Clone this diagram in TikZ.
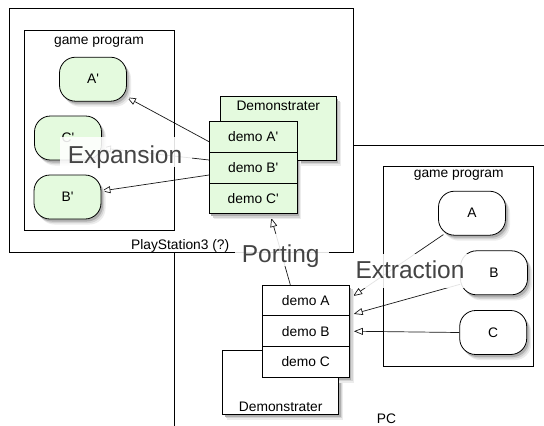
\documentclass[tikz,border=0pt]{standalone}
\usepackage{fontspec}
\setmainfont{Liberation Sans}
\usetikzlibrary{arrows.meta,calc}

\definecolor{paleGreen}{RGB}{228,250,222}
\definecolor{labelGray}{RGB}{68,68,68}
\definecolor{shadeA}{RGB}{236,236,236}
\definecolor{shadeB}{RGB}{212,212,212}
\definecolor{shadeC}{RGB}{175,175,175}

\pgfdeclarelayer{back}
\pgfdeclarelayer{edges}
\pgfdeclarelayer{front}
\pgfsetlayers{back,edges,main,front}

\tikzset{
  txt/.style={font=\fontsize{13.8}{16}\selectfont, inner sep=0pt},
  dbox/.style={draw=black, line width=0.8pt, anchor=north west, inner sep=0pt, outer sep=0pt},
  blob/.style={draw=black, line width=0.8pt, rounded corners=16pt, minimum width=67pt,
    minimum height=44pt, inner sep=0pt, txt},
  rowbox/.style={draw=black, line width=0.8pt, minimum width=87.5pt, minimum height=30.7pt,
    inner sep=0pt, txt},
  link/.style={draw=black!90, line width=0.7pt, -{Triangle[open, length=9pt, width=7pt]}},
  biglabel/.style={font=\fontsize{24.5}{28}\selectfont, text=labelGray, inner sep=0pt, anchor=base},
  labelbg/.style={fill=white, fill opacity=0.88, draw=none, inner sep=0pt},
}

% soft drop shadow for a box given by its centre, width and height,
% drawn as three offset grey copies, farthest and lightest first
\newcommand\castshadow[4]{%
  \fill[shadeA, #4] ($(#1)+(-#2/2+4.5,#3/2+5.5)$) rectangle ++(#2,-#3);
  \fill[shadeB, #4] ($(#1)+(-#2/2+3.2,#3/2+4)$) rectangle ++(#2,-#3);
  \fill[shadeC, #4] ($(#1)+(-#2/2+2,#3/2+2.5)$) rectangle ++(#2,-#3);
}

\begin{document}
\begin{tikzpicture}[x=1pt,y=-1pt]
\useasboundingbox (0,0) rectangle (544,426);
\clip (0,0) rectangle (544,426);

% ---------- containers ----------
\begin{pgfonlayer}{back}
  \node[dbox, minimum width=400pt, minimum height=320pt] (pc) at (174,145) {};
  \node[dbox, fill=white, minimum width=344pt, minimum height=244pt] (ps3) at (9,8) {};
  \node[txt, anchor=base] (ps3name) at (180.2,249.5) {PlayStation3 (?)};
  \node[txt, anchor=base] (pcname) at (386.5,423.5) {PC};
\end{pgfonlayer}

% ---------- shadows under the boxes ----------
\castshadow{93,79.2}{67}{44}{rounded corners=16pt}
\castshadow{68,138}{67}{44}{rounded corners=16pt}
\castshadow{67.5,197}{67}{44}{rounded corners=16pt}
\castshadow{278.3,128.35}{116}{63.3}{sharp corners}
\castshadow{253.2,167.75}{87.5}{92.1}{sharp corners}
\castshadow{472,213.2}{67}{44}{rounded corners=16pt}
\castshadow{494,272.8}{67}{44}{rounded corners=16pt}
\castshadow{493.2,332.5}{67}{44}{rounded corners=16pt}
\castshadow{280.7,382}{116}{64}{sharp corners}
\castshadow{305.7,331.25}{87.5}{92.1}{sharp corners}

% ---------- PlayStation3 side ----------
\node[dbox, minimum width=150pt, minimum height=199.6pt] (gp1) at (24,30.7) {};
\node[txt, anchor=base] (gp1name) at (99,44.7) {game program};
\node[blob, fill=paleGreen] (Ap) at (93,79.2) {A\textquotesingle};
\node[blob, fill=paleGreen] (Cp) at (68,138) {C\textquotesingle};
\node[blob, fill=paleGreen] (Bp) at (67.5,197) {B\textquotesingle};

\node[dbox, fill=paleGreen, minimum width=116pt, minimum height=63.3pt] (dem1) at (220.3,96.7) {};
\node[txt, anchor=base] (dem1name) at (278.3,110) {Demonstrater};
\node[rowbox, fill=paleGreen] (dAp) at (253.2,137) {demo A\textquotesingle};
\node[rowbox, fill=paleGreen] (dBp) at (253.2,167.8) {demo B\textquotesingle};
\node[rowbox, fill=paleGreen] (dCp) at (253.2,198.4) {demo C\textquotesingle};

% ---------- PC side ----------
\node[dbox, minimum width=150pt, minimum height=200pt] (gp2) at (383.7,166) {};
\node[txt, anchor=base] (gp2name) at (458.7,177.5) {game program};
\node[blob, fill=white] (A) at (472,213.2) {A};
\node[blob, fill=white] (B) at (494,272.8) {B};
\node[blob, fill=white] (C) at (493.2,332.5) {C};

\node[dbox, fill=white, minimum width=116pt, minimum height=64pt] (dem2) at (222.7,350) {};
\node[txt, anchor=base] (dem2name) at (280.7,411.7) {Demonstrater};
\node[rowbox, fill=white] (dA) at (305.7,300.5) {demo A};
\node[rowbox, fill=white] (dB) at (305.7,331.2) {demo B};
\node[rowbox, fill=white] (dC) at (305.7,362) {demo C};

% ---------- connectors ----------
\begin{pgfonlayer}{edges}
  % expansion
  \draw[link] ([yshift=-4.7pt]dAp.west) -- ([yshift=4.3pt]Ap.south east);
  \draw[link] ([yshift=7.8pt]dBp.west) -- ([yshift=-10pt]Cp.east);
  \draw[link] ([yshift=-7.2pt]dBp.west) -- ([yshift=6pt]Bp.east);
  % porting
  \draw[link, shorten >=4pt] ([xshift=-15.4pt]dA.north) -- ([xshift=17pt]dCp.south);
  % extraction
  \draw[link, shorten >=4pt] ([xshift=5.3pt,yshift=1pt]A.south west) -- ([yshift=2.2pt]dA.east);
  \draw[link, shorten >=4pt] ([yshift=-11.5pt]B.west) -- ([yshift=-14.5pt]dA.east);
  \draw[link, shorten >=4pt] (C.west) -- (dB.east);
\end{pgfonlayer}

% ---------- big captions ----------
\begin{pgfonlayer}{front}
  \node[labelbg, minimum width=132pt, minimum height=30pt] (expbg) at (126,152) {};
  \node[biglabel] (exp) at (125,163.3) {Expansion};
  \node[labelbg, minimum width=94pt, minimum height=32pt] (portbg) at (282,250) {};
  \node[biglabel] (port) at (280.7,262) {Porting};
  \node[labelbg, minimum width=120pt, minimum height=34pt] (extbg) at (410,271) {};
  \node[biglabel] (ext) at (410,278.3) {Extraction};
\end{pgfonlayer}
\end{tikzpicture}
\end{document}
